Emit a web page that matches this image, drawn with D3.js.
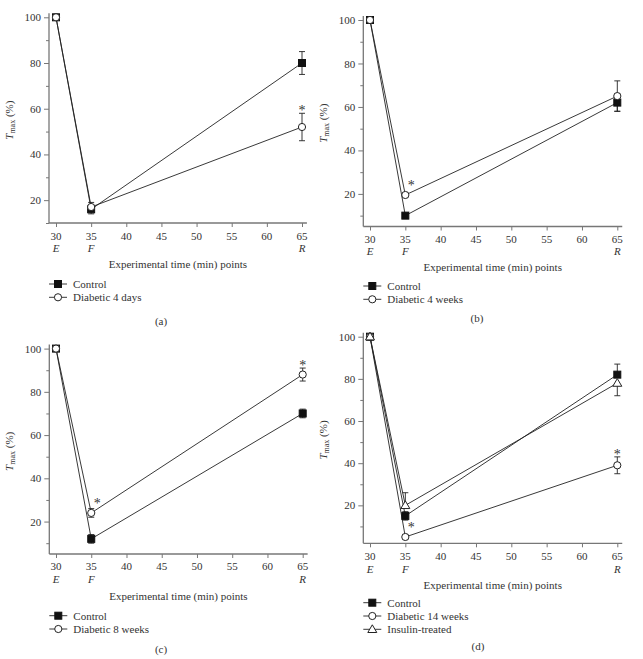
<!DOCTYPE html>
<html>
<head>
<meta charset="utf-8">
<script src="https://cdn.jsdelivr.net/npm/d3@7"></script>
<style>
  body { margin: 0; background: #fff; }
  svg, svg text { font-family: "Liberation Serif", "DejaVu Serif", serif; }
</style>
</head>
<body>
<div id="chart"></div>
<script>
// thời điểm đo và nhãn
const times = [30, 35, 65];
const pointLabels = ["E", "F", "R"];
const xTicks = [30, 35, 40, 45, 50, 55, 60, 65];
const yTicks = [20, 40, 60, 80, 100];
const yMinorTicks = [10, 30, 50, 70, 90];

// (a)
const controlA = [100, 16, 80];
const controlAErr = [[0, 0], [2, 2], [5, 5]];
const diabetic4dA = [100, 17, 52];
const diabetic4dAErr = [[0, 0], [2, 2], [6, 6]];
const legendA = ["Control", "Diabetic 4 days"];

// (b)
const controlB = [100, 10, 62];
const controlBErr = [[0, 0], [1, 1], [4, 4]];
const diabetic4wB = [100, 19.5, 65];
const diabetic4wBErr = [[0, 0], [1, 1], [7, 7]];
const legendB = ["Control", "Diabetic 4 weeks"];

// (c)
const controlC = [100, 12, 70];
const controlCErr = [[0, 0], [2, 2], [2, 2]];
const diabetic8wC = [100, 24, 88];
const diabetic8wCErr = [[0, 0], [2, 2], [3, 3]];
const legendC = ["Control", "Diabetic 8 weeks"];

// (d)
const controlD = [100, 15, 82];
const controlDErr = [[0, 0], [2, 2], [0, 5]];
const diabetic14wD = [100, 5, 39];
const diabetic14wDErr = [[0, 0], [1, 1], [4, 4]];
const insulinD = [100, 20, 78];
const insulinDErr = [[0, 0], [0, 6], [6, 0]];
const legendD = ["Control", "Diabetic 14 weeks", "Insulin-treated"];

const W = 643, H = 659;
const FONT = "'Liberation Serif', 'DejaVu Serif', serif";
const svg = d3.select("#chart").append("svg").attr("width", W).attr("height", H)
  .attr("font-family", FONT);

const ink = "#222";
const axisColor = "#777";
const textColor = "#333";

const panels = [
  { tag: "(a)", ax: 49, x0: 56, x1: 302, yMin: 10, yBot: 223, yTop: 17.3, labelX: 13,
    series: [[controlA, controlAErr, "square"], [diabetic4dA, diabetic4dAErr, "circle"]],
    legend: legendA, stars: [[1, 2]], tickY: 240, letterY: 252, titleY: 268, legendY: 284, tagY: 325, tagX: 161 },
  { tag: "(b)", ax: 363.3, x0: 370, x1: 617.3, yMin: 5, yBot: 226.5, yTop: 20, labelX: 327,
    series: [[controlB, controlBErr, "square"], [diabetic4wB, diabetic4wBErr, "circle"]],
    legend: legendB, stars: [[1, 1]], tickY: 243, letterY: 255, titleY: 271, legendY: 286, tagY: 322, tagX: 477 },
  { tag: "(c)", ax: 49.3, x0: 56, x1: 302.7, yMin: 5, yBot: 554, yTop: 348.6, labelX: 13,
    series: [[controlC, controlCErr, "square"], [diabetic8wC, diabetic8wCErr, "circle"]],
    legend: legendC, stars: [[1, 1], [1, 2]], tickY: 570, letterY: 583, titleY: 600, legendY: 615.7, tagY: 653, tagX: 161 },
  { tag: "(d)", ax: 363.3, x0: 370, x1: 617.3, yMin: 2, yBot: 543.3, yTop: 336.7, labelX: 327,
    series: [[controlD, controlDErr, "square"], [diabetic14wD, diabetic14wDErr, "circle"], [insulinD, insulinDErr, "triangle"]],
    legend: legendD, stars: [[1, 1], [1, 2]], tickY: 560, letterY: 573, titleY: 589, legendY: 602.7, tagY: 650, tagX: 478 }
];

function drawMarker(g, shape, cx, cy) {
  if (shape === "square") {
    g.append("rect").attr("x", cx - 3.5).attr("y", cy - 3.5).attr("width", 7).attr("height", 7)
      .attr("fill", "#111").attr("stroke", "#111");
  } else if (shape === "circle") {
    g.append("circle").attr("cx", cx).attr("cy", cy).attr("r", 3.6)
      .attr("fill", "#fff").attr("stroke", ink).attr("stroke-width", 1);
  } else {
    g.append("path").attr("d", `M${cx},${cy - 4.5}L${cx + 4.5},${cy + 3.2}L${cx - 4.5},${cy + 3.2}Z`)
      .attr("fill", "#fff").attr("stroke", ink).attr("stroke-width", 1);
  }
}

panels.forEach(p => {
  const g = svg.append("g");
  const x = d3.scaleLinear().domain([30, 65]).range([p.x0, p.x1]);
  const y = d3.scaleLinear().domain([p.yMin, 100]).range([p.yBot, p.yTop]);

  // trục y
  const yAx = g.append("g").attr("transform", `translate(${p.ax},0)`)
    .call(d3.axisLeft(y).tickValues(yTicks).tickSize(5).tickPadding(3));
  yAx.attr("font-family", FONT).attr("font-size", 11);
  yAx.select(".domain").remove();
  yAx.selectAll("line").attr("stroke", axisColor);
  yAx.selectAll("text").attr("fill", textColor);
  const yMinor = g.append("g").attr("transform", `translate(${p.ax},0)`)
    .call(d3.axisLeft(y).tickValues(yMinorTicks).tickSize(3).tickFormat(""));
  yMinor.select(".domain").remove();
  yMinor.selectAll("line").attr("stroke", axisColor);
  g.append("line").attr("x1", p.ax).attr("x2", p.ax).attr("y1", p.yBot).attr("y2", y(100) - 4)
    .attr("stroke", axisColor).attr("stroke-width", 1.3);

  // trục x
  const xAx = g.append("g").attr("transform", `translate(0,${p.yBot})`)
    .call(d3.axisBottom(x).tickValues(xTicks).tickSize(4).tickFormat(""));
  xAx.select(".domain").remove();
  xAx.selectAll("line").attr("stroke", axisColor);
  g.append("line").attr("x1", p.ax).attr("x2", x(65.7)).attr("y1", p.yBot).attr("y2", p.yBot)
    .attr("stroke", axisColor).attr("stroke-width", 1.3);
  g.selectAll(".xt").data(xTicks).join("text")
    .attr("x", d => x(d)).attr("y", p.tickY).attr("text-anchor", "middle")
    .attr("font-size", 11).attr("fill", textColor).text(d => d);
  g.selectAll(".pl").data(pointLabels).join("text")
    .attr("x", (d, i) => x(times[i])).attr("y", p.letterY).attr("text-anchor", "middle")
    .attr("font-size", 11).attr("font-style", "italic").attr("fill", textColor).text(d => d);

  // tiêu đề trục
  g.append("text").attr("x", (p.ax + x(65.7)) / 2).attr("y", p.titleY).attr("text-anchor", "middle")
    .attr("font-size", 11).attr("fill", textColor).text("Experimental time (min) points");
  const yl = g.append("text")
    .attr("transform", `translate(${p.labelX},${(p.yBot + y(100)) / 2}) rotate(-90)`)
    .attr("text-anchor", "middle").attr("font-size", 11).attr("fill", textColor);
  yl.append("tspan").attr("font-style", "italic").text("T");
  yl.append("tspan").attr("font-size", 8).attr("dy", 2).text("max");
  yl.append("tspan").attr("dy", -2).text(" (%)");

  // đường nối
  const line = d3.line().x((d, i) => x(times[i])).y(d => y(d));
  p.series.forEach(([vals]) => {
    g.append("path").attr("d", line(vals)).attr("fill", "none").attr("stroke", ink).attr("stroke-width", 0.9);
  });

  // thanh sai số
  p.series.forEach(([vals, err]) => {
    vals.forEach((v, i) => {
      const cx = x(times[i]);
      const [dn, up] = err[i];
      if (dn + up === 0) return;
      const lo = y(v - dn), hi = y(v + up);
      g.append("line").attr("x1", cx).attr("x2", cx).attr("y1", lo).attr("y2", hi).attr("stroke", ink).attr("stroke-width", 0.9);
      if (up > 0) g.append("line").attr("x1", cx - 3).attr("x2", cx + 3).attr("y1", hi).attr("y2", hi).attr("stroke", ink).attr("stroke-width", 0.9);
      if (dn > 0) g.append("line").attr("x1", cx - 3).attr("x2", cx + 3).attr("y1", lo).attr("y2", lo).attr("stroke", ink).attr("stroke-width", 0.9);
    });
  });

  // điểm
  p.series.forEach(([vals, , shape]) => {
    vals.forEach((v, i) => drawMarker(g, shape, x(times[i]), y(v)));
  });

  // dấu sao
  p.stars.forEach(([si, pi]) => {
    const [vals, err] = p.series[si];
    const cx = x(times[pi]);
    if (pi === 1) {
      g.append("text").attr("x", cx + 6).attr("y", y(vals[pi]) - 5).attr("text-anchor", "middle")
        .attr("font-size", 14).attr("fill", textColor).text("*");
    } else {
      g.append("text").attr("x", cx).attr("y", y(vals[pi] + err[pi][1]) + 2).attr("text-anchor", "middle")
        .attr("font-size", 14).attr("fill", textColor).text("*");
    }
  });

  // chú giải
  p.legend.forEach((name, i) => {
    const ly = p.legendY + i * 13.3;
    g.append("line").attr("x1", p.ax).attr("x2", p.ax + 18).attr("y1", ly).attr("y2", ly).attr("stroke", ink).attr("stroke-width", 0.9);
    drawMarker(g, p.series[i][2], p.ax + 9, ly);
    g.append("text").attr("x", p.ax + 24).attr("y", ly + 4).attr("font-size", 11).attr("fill", textColor).text(name);
  });

  g.append("text").attr("x", p.tagX).attr("y", p.tagY).attr("text-anchor", "middle")
    .attr("font-size", 11).attr("fill", textColor).text(p.tag);
});
</script>
</body>
</html>
